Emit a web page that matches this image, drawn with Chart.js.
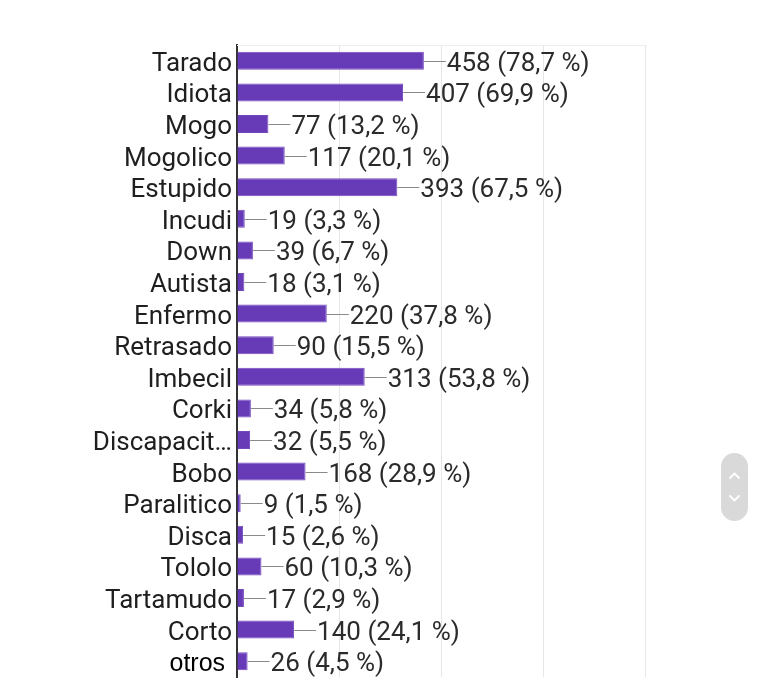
<!DOCTYPE html>
<html>
<head>
<meta charset="utf-8">
<script src="https://cdn.jsdelivr.net/npm/chart.js@4.4.1/dist/chart.umd.min.js"></script>
<style>
  html, body { margin: 0; padding: 0; background: #fff; }
  #wrap { position: relative; width: 766px; height: 681px; overflow: hidden; }
  #scroller {
    position: absolute; left: 721px; top: 453px; width: 27px; height: 68px;
    border-radius: 14px; background: #d9d9d9;
  }
  #scroller svg { position: absolute; left: 0; top: 0; }
</style>
</head>
<body>
<div id="wrap">
  <canvas id="c" width="766" height="681"></canvas>
  <div id="scroller">
    <svg width="27" height="68" viewBox="0 0 27 68">
      <polyline points="9,25 13.5,20.5 18,25" fill="none" stroke="#ffffff" stroke-width="1.8" stroke-linecap="round" stroke-linejoin="round"/>
      <polyline points="9,43 13.5,47.5 18,43" fill="none" stroke="#ffffff" stroke-width="1.8" stroke-linecap="round" stroke-linejoin="round"/>
    </svg>
  </div>
</div>
<script>
const categories = ["Tarado","Idiota","Mogo","Mogolico","Estupido","Incudi","Down","Autista","Enfermo","Retrasado","Imbecil","Corki","Discapacit…","Bobo","Paralitico","Disca","Tololo","Tartamudo","Corto","otros "];
const counts = [458,407,77,117,393,19,39,18,220,90,313,34,32,168,9,15,60,17,140,26];
const percents = ["78,7","69,9","13,2","20,1","67,5","3,3","6,7","3,1","37,8","15,5","53,8","5,8","5,5","28,9","1,5","2,6","10,3","2,9","24,1","4,5"];
const xTicks = [0, 250, 500, 750, 1000];

const valueLabels = {
  id: 'valueLabels',
  beforeDatasetsDraw(chart) {
    const ctx = chart.ctx, a = chart.chartArea;
    ctx.save();
    ctx.strokeStyle = '#eeeeee';
    ctx.lineWidth = 1;
    ctx.beginPath();
    ctx.moveTo(a.left, a.top + 0.5);
    ctx.lineTo(a.right, a.top + 0.5);
    ctx.stroke();
    ctx.restore();
  },
  afterDatasetsDraw(chart) {
    const ctx = chart.ctx;
    const meta = chart.getDatasetMeta(0);
    const left = chart.chartArea.left;
    ctx.save();
    meta.data.forEach((bar, i) => {
      const x = bar.x, y = bar.y;
      // connector
      ctx.strokeStyle = '#8a8a8a';
      ctx.lineWidth = 1;
      ctx.beginPath();
      ctx.moveTo(x, Math.round(y) + 0.5);
      ctx.lineTo(x + 22, Math.round(y) + 0.5);
      ctx.stroke();
      // value label
      ctx.fillStyle = '#2b2b2b';
      ctx.font = '26px Roboto';
      ctx.textAlign = 'left';
      ctx.textBaseline = 'alphabetic';
      ctx.fillText(counts[i] + ' (' + percents[i] + ' %)', x + 23, y + 10);
      // category label
      const last = i === categories.length - 1;
      ctx.textAlign = 'right';
      ctx.fillStyle = last ? '#000000' : '#1f1f1f';
      ctx.font = last ? '25px "Liberation Sans"' : '26px Roboto';
      ctx.fillText(categories[i], left - 5, y + 10);
    });
    ctx.restore();
  }
};

new Chart(document.getElementById('c'), {
  type: 'bar',
  data: {
    labels: categories,
    datasets: [{
      data: counts,
      backgroundColor: '#673ab7',
      borderColor: '#7349bd',
      borderWidth: 1,
      barPercentage: 0.57,
      categoryPercentage: 1.0
    }]
  },
  options: {
    indexAxis: 'y',
    responsive: false,
    animation: false,
    devicePixelRatio: 1,
    layout: { padding: { top: 45, bottom: 4, left: 0, right: 121 } },
    plugins: { legend: { display: false }, tooltip: { enabled: false } },
    scales: {
      x: {
        min: 0, max: 1000,
        afterBuildTicks(scale) { scale.ticks = xTicks.map(v => ({ value: v })); },
        afterFit(scale) { scale.height = 0; },
        ticks: { display: false },
        grid: { color: '#e6e6e6', lineWidth: 1, drawTicks: false },
        border: { display: false }
      },
      y: {
        afterFit(scale) { scale.width = 237; },
        grid: { display: false, drawTicks: false },
        border: { display: true, color: '#333333', width: 2 },
        ticks: { display: false }
      }
    }
  },
  plugins: [valueLabels]
});
</script>
</body>
</html>
